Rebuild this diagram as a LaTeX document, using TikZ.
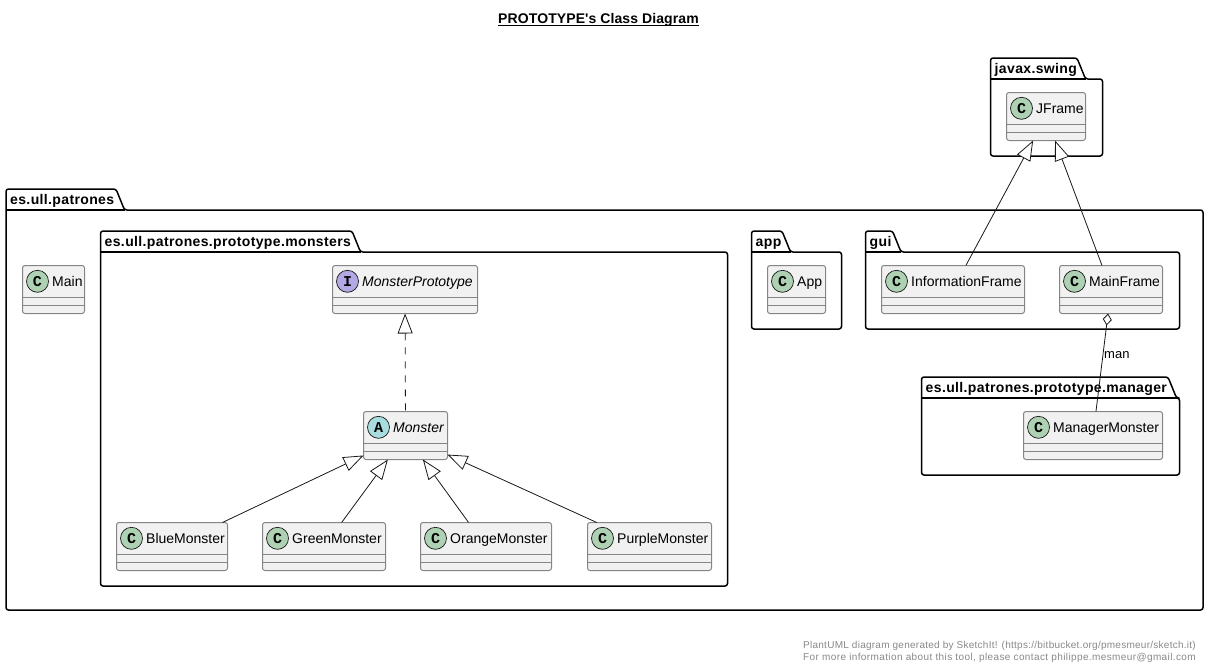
\documentclass[tikz,border=0pt]{standalone}
\usepackage{fontspec}
\usepackage{tikz}
\usetikzlibrary{arrows.meta}
\setmainfont{Liberation Sans}
\newfontfamily\spotfont{Liberation Mono}
\newfontfamily\pkgfont[LetterSpace=2.6]{Liberation Sans}
\newfontfamily\titlefont[LetterSpace=0.7]{Liberation Sans}
\newfontfamily\footfont[LetterSpace=2.6]{Liberation Sans}
\newfontfamily\footfontb[LetterSpace=3.9]{Liberation Sans}
\definecolor{cfill}{HTML}{F1F1F1}
\definecolor{cline}{HTML}{181818}
\definecolor{cedge}{HTML}{858585}
\definecolor{spotc}{HTML}{ADD1B2}
\definecolor{spota}{HTML}{A9DCDF}
\definecolor{spoti}{HTML}{B4A7E5}
\definecolor{footgray}{HTML}{888888}
% name, centre x, centre y, width, spot colour, letter, text
\newcommand{\classbox}[7]{%
    \node[cbox, minimum width=#4] (#1) at (#2,#3) {};
    \draw[csep] ([yshift=-8pt]#1.west) -- ([yshift=-8pt]#1.east);
    \draw[csep] ([yshift=-16pt]#1.west) -- ([yshift=-16pt]#1.east);
    \node[cspot, fill=#5] (#1s) at ([xshift=15pt,yshift=8.2pt]#1.west) {#6};
    \node[ctext] (#1t) at ([xshift=29.5pt,yshift=3.3pt]#1.west) {#7};
}
% name, left, right, tab end, tab top, body top, bottom, text
\newcommand{\packagebox}[8]{%
    \draw[pframe] (#2,#6) -- (#2,#5) -- (#4,#5) -- (#4+8.5,#6) -- (#3,#6) -- (#3,#7) -- (#2,#7) -- cycle;
    \draw[pframe] (#2,#6) -- (#4+8.5,#6);
    \node[ptext] (#1) at (#2+4,#5+15) {#8};
}

\begin{document}
\begin{tikzpicture}[x=1pt,y=-1pt,
    cbox/.style={draw=cedge, line width=1pt, fill=cfill, rounded corners=2.5pt, minimum height=48pt, inner sep=0pt, outer sep=0pt},
    csep/.style={draw=cedge, line width=1pt},
    cspot/.style={draw=cline, line width=0.7pt, circle, minimum size=22pt, inner sep=0pt, font=\spotfont\bfseries\fontsize{15}{15}\selectfont},
    ctext/.style={anchor=base west, inner sep=0pt, font=\fontsize{14}{14}\selectfont},
    pframe/.style={draw=black, line width=1.5pt, rounded corners=2.5pt, line join=round},
    ptext/.style={anchor=base west, inner sep=0pt, font=\pkgfont\bfseries\fontsize{14}{14}\selectfont},
    gen/.style={draw=cline, line width=0.8pt, {Triangle[length=20pt,width=15pt,fill=white]}-},
    agg/.style={draw=cline, line width=0.8pt, {Diamond[length=12pt,width=9pt,fill=white]}-},
    foot/.style={anchor=base east, inner sep=0pt, text=footgray}]
    \useasboundingbox (0,0) rectangle (1209,667);

    \node[anchor=base, inner sep=0pt, font=\titlefont\bfseries\fontsize{14}{14}\selectfont] (title) at (598.5,23) {PROTOTYPE's Class Diagram};
    \draw[line width=1pt] ([yshift=-2pt]title.base west) -- ([yshift=-2pt]title.base east);

    \packagebox{swing}{990.5}{1102.5}{1077}{58}{79}{156}{javax.swing}
    \packagebox{patrones}{6}{1203}{116}{189}{210}{610}{es.ull.patrones}
    \packagebox{monsters}{100.5}{727.5}{352}{231}{252}{586}{es.ull.patrones.prototype.monsters}
    \packagebox{app}{751.5}{841.5}{782}{231}{252}{329}{app}
    \packagebox{gui}{865.5}{1179.5}{892.5}{231}{252}{329}{gui}
    \packagebox{manager}{921.5}{1179.5}{1168}{377}{398}{475}{es.ull.patrones.prototype.manager}

    \classbox{jframe}{1046}{116.5}{79}{spotc}{C}{JFrame}
    \classbox{infoframe}{953}{289.5}{143}{spotc}{C}{InformationFrame}
    \classbox{mainframe}{1111}{289.5}{103}{spotc}{C}{MainFrame}
    \classbox{managerm}{1093}{435.5}{139}{spotc}{C}{ManagerMonster}
    \classbox{main}{53.5}{289.5}{62}{spotc}{C}{Main}
    \classbox{appc}{796.5}{289.5}{58}{spotc}{C}{App}
    \classbox{prototype}{405}{289.5}{145}{spoti}{I}{\textit{MonsterPrototype}}
    \classbox{monster}{405.5}{435.5}{84}{spota}{A}{\textit{Monster}}
    \classbox{blue}{172}{546.5}{111}{spotc}{C}{BlueMonster}
    \classbox{green}{324}{546.5}{123}{spotc}{C}{GreenMonster}
    \classbox{orange}{486}{546.5}{131}{spotc}{C}{OrangeMonster}
    \classbox{purple}{649.5}{546.5}{124}{spotc}{C}{PurpleMonster}

    \draw[gen] (jframe) -- (infoframe);
    \draw[gen] (jframe) -- (mainframe);
    \draw[gen, dash pattern=on 7pt off 7pt] (prototype) -- (monster);
    \draw[gen] (monster) -- (blue);
    \draw[gen] (monster) -- (green);
    \draw[gen] (monster) -- (orange);
    \draw[gen] (monster) -- (purple);
    \draw[agg] (mainframe) -- (managerm);

    \node[anchor=base west, inner sep=0pt, font=\fontsize{13}{13}\selectfont] (man) at (1104,358) {man};

    \node[foot, font=\footfont\fontsize{10}{10}\selectfont] (foot1) at (1196,648) {PlantUML diagram generated by SketchIt! (https://bitbucket.org/pmesmeur/sketch.it)};
    \node[foot, font=\footfontb\fontsize{10}{10}\selectfont] (foot2) at (1196,660) {For more information about this tool, please contact philippe.mesmeur@gmail.com};
\end{tikzpicture}
\end{document}
